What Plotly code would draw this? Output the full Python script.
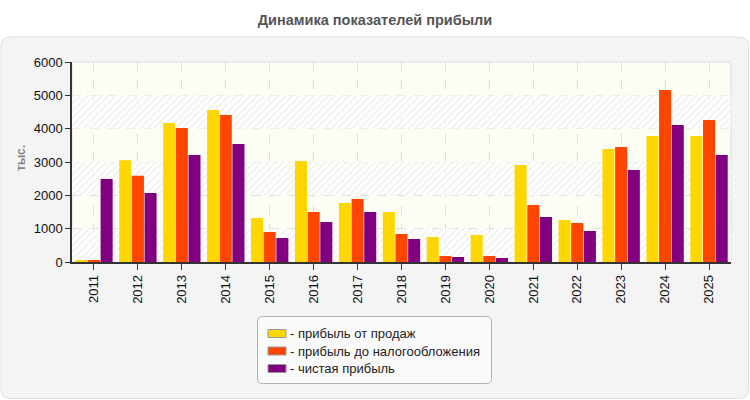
import plotly.graph_objects as go

years = ["2011", "2012", "2013", "2014", "2015", "2016", "2017", "2018",
         "2019", "2020", "2021", "2022", "2023", "2024", "2025"]
sales = [45, 3050, 4170, 4560, 1320, 3030, 1770, 1500, 750, 810, 2910, 1260, 3390, 3780, 3780]
pretax = [55, 2590, 4020, 4410, 900, 1500, 1890, 840, 180, 180, 1710, 1170, 3450, 5160, 4260]
net = [2490, 2070, 3210, 3540, 720, 1200, 1500, 690, 150, 120, 1350, 930, 2760, 4110, 3210]

series_names = ["прибыль от продаж", "прибыль до налогообложения", "чистая прибыль"]
series_values = [sales, pretax, net]
series_colors = ["#FFD700", "#FF4500", "#800080"]

band_bases = [0, 2000, 4000]
band_height = 1000

W_PX, H_PX = 750, 400
L, R, T, B = 72, 731, 62, 262
PW, PH = R - L, B - T
FONT = "Liberation Sans, Arial, sans-serif"


def px(x):
    return (x - L) / PW


def py(y):
    return (B - y) / PH


def rounded_path(x0, y0, x1, y1, r):
    pts = []
    pts.append(f"M {px(x0 + r)},{py(y0)}")
    pts.append(f"L {px(x1 - r)},{py(y0)}")
    pts.append(f"Q {px(x1)},{py(y0)} {px(x1)},{py(y0 + r)}")
    pts.append(f"L {px(x1)},{py(y1 - r)}")
    pts.append(f"Q {px(x1)},{py(y1)} {px(x1 - r)},{py(y1)}")
    pts.append(f"L {px(x0 + r)},{py(y1)}")
    pts.append(f"Q {px(x0)},{py(y1)} {px(x0)},{py(y1 - r)}")
    pts.append(f"L {px(x0)},{py(y0 + r)}")
    pts.append(f"Q {px(x0)},{py(y0)} {px(x0 + r)},{py(y0)}")
    pts.append("Z")
    return " ".join(pts)


fig = go.Figure()

# hatched background bands (on hidden numeric base axis)
fig.add_trace(go.Bar(
    x=[0.5] * len(band_bases), y=[band_height] * len(band_bases), base=band_bases,
    width=1, xaxis="x", yaxis="y",
    marker=dict(color="rgba(255,255,255,0.7)", line=dict(width=0),
                pattern=dict(shape="/", fgcolor="#e2e2e2", size=5, solidity=0.3,
                             fillmode="overlay")),
    hoverinfo="skip", showlegend=False,
))

for name, vals, col in zip(series_names, series_values, series_colors):
    fig.add_trace(go.Bar(
        x=years, y=vals, name=name, xaxis="x2", yaxis="y",
        marker=dict(color=col, line=dict(width=0)),
        showlegend=False,
    ))

shapes = []
# outer panel
shapes.append(dict(type="path", xref="paper", yref="paper", layer="below",
                   path=rounded_path(1, 37, 748.5, 398.5, 9),
                   fillcolor="#f4f4f4", line=dict(color="#e0e0e0", width=1)))
# plot border (light)
shapes.append(dict(type="rect", xref="paper", yref="paper", layer="below",
                   x0=0, x1=1, y0=0, y1=1, fillcolor="#fcfdf5",
                   line=dict(color="#dcdcdc", width=1)))
# legend box
shapes.append(dict(type="path", xref="paper", yref="paper", layer="above",
                   path=rounded_path(257.5, 316.5, 491.5, 383.5, 5),
                   fillcolor="#fafafa", line=dict(color="#b0b0b0", width=1)))

annotations = []
row_y = [333.5, 351, 368.5]
for name, col, ry in zip(series_names, series_colors, row_y):
    shapes.append(dict(type="rect", xref="paper", yref="paper", layer="above",
                       x0=px(268), x1=px(286), y0=py(ry - 4), y1=py(ry + 4),
                       fillcolor=col, line=dict(color="#999999", width=1)))
    annotations.append(dict(xref="paper", yref="paper", x=px(288), y=py(ry),
                            xanchor="left", yanchor="middle", showarrow=False,
                            text="- " + name,
                            font=dict(family=FONT, size=13, color="#222222")))

annotations.append(dict(xref="paper", yref="paper", x=px(21), y=py(158),
                        xanchor="center", yanchor="middle", showarrow=False,
                        text="<b>тыс.</b>", textangle=-90,
                        font=dict(family=FONT, size=12, color="#888888")))

fig.update_layout(
    width=W_PX, height=H_PX,
    margin=dict(l=L, r=W_PX - R, t=T, b=H_PX - B),
    paper_bgcolor="white",
    plot_bgcolor="rgba(0,0,0,0)",
    barmode="group",
    bargap=0.135,
    bargroupgap=0.05,
    title=dict(text="<b>Динамика показателей прибыли</b>", x=0.5, xref="container",
               y=1 - 20 / H_PX, yref="container", xanchor="center", yanchor="middle",
               font=dict(family=FONT, size=14.5, color="#555555")),
    font=dict(family=FONT, size=13, color="#111111"),
    xaxis=dict(visible=False, range=[0, 1], fixedrange=True),
    xaxis2=dict(overlaying="x", anchor="y", side="bottom", type="category",
                showgrid=True, gridcolor="#dddddd", griddash="dash", gridwidth=1,
                showline=True, linecolor="#333333", linewidth=1.5,
                ticks="outside", ticklen=6, tickcolor="#333333",
                tickangle=-90, tickfont=dict(family=FONT, size=13, color="#111111")),
    yaxis=dict(range=[0, 6000], dtick=1000, showgrid=True, gridcolor="#dddddd",
               griddash="dash", gridwidth=1, zeroline=False,
               showline=True, linecolor="#333333", linewidth=1.5,
               ticks="outside", ticklen=5, tickcolor="#333333",
               tickfont=dict(family=FONT, size=13, color="#111111")),
    shapes=shapes,
    annotations=annotations,
)

fig.write_html("out.html")
